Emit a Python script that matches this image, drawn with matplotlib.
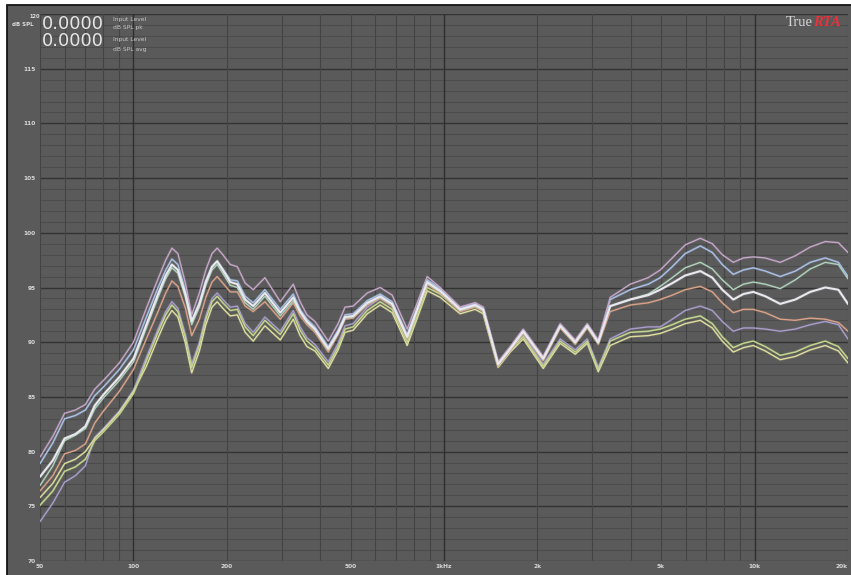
import matplotlib
matplotlib.use("Agg")
import matplotlib.pyplot as plt
from matplotlib.patches import Rectangle

# frequency points (Hz)
freqs = [50, 55, 60, 65, 70, 75, 80, 90, 100, 110,
         120, 127, 133, 139, 147, 154, 163, 171, 179, 186,
         194, 205, 216, 229, 243, 265, 297, 327, 344, 362,
         384, 424, 456, 480, 510, 566, 623, 681, 761, 820,
         883, 972, 1127, 1260, 1337, 1494, 1634, 1799, 2087, 2367,
         2646, 2893, 3139, 3430, 3979, 4546, 4970, 5434, 5983, 6690,
         7312, 7873, 8543, 9205, 9910, 10830, 12100, 13530, 15120, 16900,
         18620, 20000]

# dB SPL of each measurement trace
lavender_db = [79.5, 81.4, 83.5, 83.8, 84.3, 85.7, 86.5, 88.1, 90.0, 93.1,
               95.8, 97.5, 98.6, 98.1, 95.4, 92.5, 94.5, 96.6, 98.1, 98.6,
               98.0, 97.1, 96.9, 95.4, 94.8, 95.9, 93.7, 95.3, 93.7, 92.5,
               91.9, 90.1, 91.7, 93.2, 93.3, 94.5, 95.0, 94.3, 91.2, 93.6,
               96.0, 95.0, 93.2, 93.6, 93.2, 88.2, 89.6, 91.2, 88.7, 91.7,
               90.2, 91.7, 90.2, 94.1, 95.3, 95.9, 96.6, 97.7, 98.9, 99.5,
               99.0, 98.0, 97.3, 97.7, 97.8, 97.7, 97.3, 97.9, 98.7, 99.2,
               99.1, 98.2]
blue_db = [78.9, 80.8, 83.0, 83.3, 83.8, 85.1, 85.9, 87.5, 89.3, 92.3,
           95.0, 96.6, 97.6, 97.1, 94.7, 91.9, 93.6, 95.6, 96.9, 97.4,
           96.7, 95.7, 95.6, 94.2, 93.6, 94.8, 93.0, 94.4, 93.0, 92.1,
           91.4, 89.6, 91.1, 92.5, 92.6, 93.8, 94.4, 93.7, 90.7, 93.2,
           95.7, 94.9, 93.1, 93.5, 93.1, 88.1, 89.5, 91.1, 88.6, 91.6,
           90.1, 91.6, 90.1, 93.9, 94.8, 95.3, 95.9, 96.9, 98.1, 98.8,
           98.2, 97.1, 96.2, 96.6, 96.8, 96.5, 96.0, 96.5, 97.3, 97.7,
           97.3, 96.0]
teal_db = [76.9, 78.7, 81.0, 81.5, 82.1, 83.9, 84.9, 86.5, 88.2, 91.3,
           94.1, 95.8, 96.8, 96.3, 94.1, 91.6, 93.2, 95.2, 96.6, 97.1,
           96.3, 95.2, 95.0, 93.6, 93.0, 94.2, 92.4, 93.8, 92.7, 91.8,
           91.1, 89.3, 90.8, 92.2, 92.3, 93.5, 94.1, 93.4, 90.4, 92.9,
           95.4, 94.6, 92.9, 93.3, 92.9, 87.9, 89.3, 90.9, 88.4, 91.4,
           89.9, 91.4, 89.9, 93.3, 93.9, 94.4, 95.1, 95.9, 96.8, 97.3,
           96.7, 95.7, 94.8, 95.3, 95.5, 95.3, 94.9, 95.7, 96.7, 97.3,
           97.1, 95.8]
white_db = [77.7, 79.2, 81.2, 81.6, 82.3, 84.2, 85.2, 86.8, 88.5, 91.6,
            94.4, 96.1, 97.1, 96.6, 94.4, 91.9, 93.5, 95.5, 96.9, 97.4,
            96.6, 95.5, 95.3, 93.9, 93.3, 94.5, 92.7, 94.1, 92.8, 91.9,
            91.2, 89.4, 90.9, 92.3, 92.4, 93.6, 94.2, 93.5, 90.5, 93.0,
            95.5, 94.7, 93.0, 93.4, 93.0, 88.0, 89.4, 91.0, 88.5, 91.5,
            90.0, 91.5, 90.0, 93.3, 93.9, 94.3, 94.8, 95.4, 96.1, 96.5,
            95.9, 94.8, 93.9, 94.4, 94.6, 94.2, 93.5, 93.9, 94.6, 95.0,
            94.8, 93.5]
salmon_db = [76.4, 77.8, 79.8, 80.1, 80.7, 82.6, 83.7, 85.5, 87.5, 90.3,
             92.8, 94.5, 95.6, 95.1, 93.1, 90.6, 92.1, 94.1, 95.5, 96.0,
             95.4, 94.6, 94.6, 93.3, 92.8, 93.7, 92.1, 93.6, 92.4, 91.6,
             90.9, 89.1, 90.7, 92.1, 92.2, 93.4, 94.0, 93.3, 90.3, 92.8,
             95.3, 94.5, 92.8, 93.2, 92.8, 87.8, 89.2, 90.8, 88.3, 91.3,
             89.8, 91.3, 89.8, 92.8, 93.4, 93.6, 93.9, 94.3, 94.8, 95.1,
             94.6, 93.6, 92.7, 93.0, 93.0, 92.7, 92.1, 92.0, 92.2, 92.1,
             91.8, 91.0]
purple_db = [73.6, 75.3, 77.2, 77.8, 78.7, 81.3, 82.1, 83.7, 85.6, 88.6,
             91.2, 92.8, 93.7, 93.1, 90.7, 88.0, 90.0, 92.4, 94.0, 94.5,
             93.9, 93.2, 93.3, 91.7, 90.9, 92.3, 91.0, 92.9, 91.4, 90.4,
             89.8, 88.2, 89.9, 91.5, 91.7, 93.2, 94.0, 93.3, 90.3, 92.8,
             95.3, 94.7, 93.2, 93.6, 93.2, 88.1, 89.5, 90.7, 88.0, 90.3,
             89.3, 90.3, 87.7, 90.3, 91.2, 91.4, 91.4, 92.1, 92.9, 93.3,
             92.9, 91.9, 91.0, 91.3, 91.3, 91.2, 91.0, 91.2, 91.6, 91.9,
             91.6, 90.3]
lime_db = [75.1, 76.4, 78.2, 78.6, 79.3, 81.0, 81.8, 83.4, 85.3, 88.3,
           90.9, 92.5, 93.4, 92.8, 90.4, 87.7, 89.7, 92.1, 93.7, 94.2,
           93.6, 92.9, 93.0, 91.4, 90.6, 92.0, 90.7, 92.6, 91.1, 90.1,
           89.5, 87.9, 89.6, 91.2, 91.4, 92.9, 93.7, 93.0, 90.0, 92.5,
           95.0, 94.4, 92.9, 93.3, 92.9, 87.9, 89.3, 90.5, 87.8, 90.1,
           89.1, 90.1, 87.5, 90.1, 90.9, 91.0, 91.2, 91.6, 92.1, 92.4,
           91.7, 90.5, 89.5, 89.9, 90.1, 89.6, 88.8, 89.1, 89.7, 90.1,
           89.6, 88.5]
yellow_db = [75.8, 77.1, 78.9, 79.3, 80.0, 81.2, 82.0, 83.6, 85.5, 87.8,
             90.4, 92.0, 92.9, 92.3, 89.9, 87.2, 89.2, 91.6, 93.2, 93.7,
             93.1, 92.4, 92.5, 90.9, 90.1, 91.5, 90.2, 92.1, 90.6, 89.6,
             89.2, 87.6, 89.3, 90.9, 91.1, 92.6, 93.4, 92.7, 89.7, 92.2,
             94.7, 94.1, 92.6, 93.0, 92.6, 87.7, 89.1, 90.3, 87.6, 89.9,
             88.9, 89.9, 87.3, 89.7, 90.5, 90.6, 90.8, 91.2, 91.7, 92.0,
             91.3, 90.1, 89.1, 89.5, 89.7, 89.2, 88.4, 88.7, 89.3, 89.7,
             89.2, 88.1]

x_ticks = [50, 100, 200, 500, 1000, 2000, 5000, 10000, 20000]
x_labels = ["50", "100", "200", "500", "1kHz", "2k", "5k", "10k", "20k"]
y_ticks = [70, 75, 80, 85, 90, 95, 100, 105, 110, 115, 120]

BG = "#5a5a5a"

fig = plt.figure(figsize=(8.51, 5.75), dpi=100)
fig.patch.set_facecolor("white")
fig.patches.append(Rectangle((7 / 851, -0.02), 1.0, 1.02 - 5 / 575, transform=fig.transFigure,
                             facecolor=BG, edgecolor="#141414", lw=1.3, zorder=-5))

ax = fig.add_axes([40 / 851, 14 / 575, 808 / 851, 547 / 575])
ax.set_zorder(2)
ax.set_facecolor(BG)
ax.set_xscale("log")
ax.set_xlim(50, 20000)
ax.set_ylim(70, 120)
for s in ax.spines.values():
    s.set_visible(False)

# grid
for db in range(70, 121):
    major = db % 5 == 0
    ax.axhline(db, color="#333333" if major else "#4c4c4c", lw=1.0 if major else 0.8, zorder=1)
for dec in [10, 100, 1000, 10000]:
    for m in range(1, 10):
        f = dec * m
        if f < 50 or f > 20000:
            continue
        ax.axvline(f, color="#2e2e2e" if m == 1 else "#444444", lw=1.0 if m == 1 else 0.8, zorder=1)

ax.set_xticks(x_ticks)
ax.set_xticklabels(x_labels)
ax.set_xticks([], minor=True)
ax.set_yticks(y_ticks)
ax.set_yticklabels([str(v) for v in y_ticks])
ax.tick_params(length=0, labelsize=4.2, colors="#d8d8d8", pad=2)
ax.tick_params(axis="y", pad=3)
for lab in ax.get_xticklabels() + ax.get_yticklabels():
    lab.set_fontweight("bold")
ax.get_yticklabels()[-1].set_visible(False)
ax.get_xticklabels()[-1].set_horizontalalignment("right")

traces = [
    (purple_db, "#a99dcc", 1.0),
    (yellow_db, "#dedea0", 1.0),
    (lime_db, "#c2d48e", 1.1),
    (salmon_db, "#d9a288", 1.0),
    (teal_db, "#b0d2bc", 1.0),
    (blue_db, "#a8bee2", 1.1),
    (lavender_db, "#c4a6c6", 1.0),
    (white_db, "#e8e8ee", 1.5),
]
for vals, col, lw in traces:
    ax.plot(freqs, vals, color=col, lw=lw + 1.2, alpha=0.12, zorder=3,
            solid_capstyle="round", solid_joinstyle="round")
    ax.plot(freqs, vals, color=col, lw=lw, zorder=4,
            solid_capstyle="round", solid_joinstyle="round")

# header readouts
fig.text(12 / 851, 1 - 24 / 575, "dB SPL", fontsize=4, color="#dcdcdc", weight="bold", va="center", zorder=5)
fig.text(29 / 851, 1 - 16 / 575, "120", fontsize=3.6, color="#dcdcdc", weight="bold", va="center", zorder=5)
fig.text(42 / 851, 1 - 24 / 575, "0.0000", fontsize=13, color="#e4e4e4", va="center", zorder=5)
fig.text(42 / 851, 1 - 41 / 575, "0.0000", fontsize=13, color="#e4e4e4", va="center", zorder=5)
fig.text(113 / 851, 1 - 19 / 575, "Input Level", fontsize=4.3, color="#c8c8c8", va="center", zorder=5)
fig.text(113 / 851, 1 - 28 / 575, "dB SPL pk", fontsize=4.3, color="#c8c8c8", va="center", zorder=5)
fig.text(113 / 851, 1 - 40 / 575, "Input Level", fontsize=4.3, color="#c8c8c8", va="center", zorder=5)
fig.text(113 / 851, 1 - 49 / 575, "dB SPL avg", fontsize=4.3, color="#c8c8c8", va="center", zorder=5)

fig.text(813 / 851, 1 - 23 / 575, "True", fontsize=10.5, family="Liberation Serif",
         color="#d6d6d6", ha="right", va="center", zorder=5)
fig.text(813 / 851, 1 - 23 / 575, "RTA", fontsize=10.5, family="Liberation Serif",
         color="#e8323c", weight="bold", style="italic", ha="left", va="center", zorder=5)

fig.savefig("out.png", dpi=100, facecolor=fig.get_facecolor())
